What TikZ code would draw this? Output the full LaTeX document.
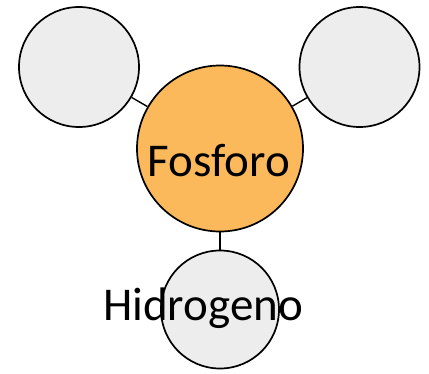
\documentclass[tikz,border=0pt]{standalone}
\usepackage{fontspec}
\setmainfont{Carlito}
\definecolor{pOrange}{HTML}{FBB95B}
\definecolor{hGray}{HTML}{EDEDED}
\begin{document}
\begin{tikzpicture}[x=1pt,y=-1pt,
  atom/.style={circle,draw=black,line width=1.7pt,inner sep=0pt},
  bond/.style={draw=black,line width=1.4pt},
  lbl/.style={inner sep=0pt,anchor=base,font=\fontsize{47}{50}\selectfont}]
\useasboundingbox (0,0) rectangle (429,373);
\node[atom,fill=hGray,minimum size=120pt] (tl) at (79,67) {};
\node[atom,fill=hGray,minimum size=120pt] (tr) at (359.5,67) {};
\node[atom,fill=hGray,minimum size=118pt] (bt) at (220,309.5) {};
\node[atom,fill=pOrange,minimum size=166pt] (p) at (220,148.5) {};
\draw[bond] (p) -- (tl);
\draw[bond] (p) -- (tr);
\draw[bond] (p) -- (bt);
\node[lbl] (tp) at (219,176) {Fosforo};
\node[lbl] (th) at (203,320) {Hidrogeno};
\end{tikzpicture}
\end{document}
